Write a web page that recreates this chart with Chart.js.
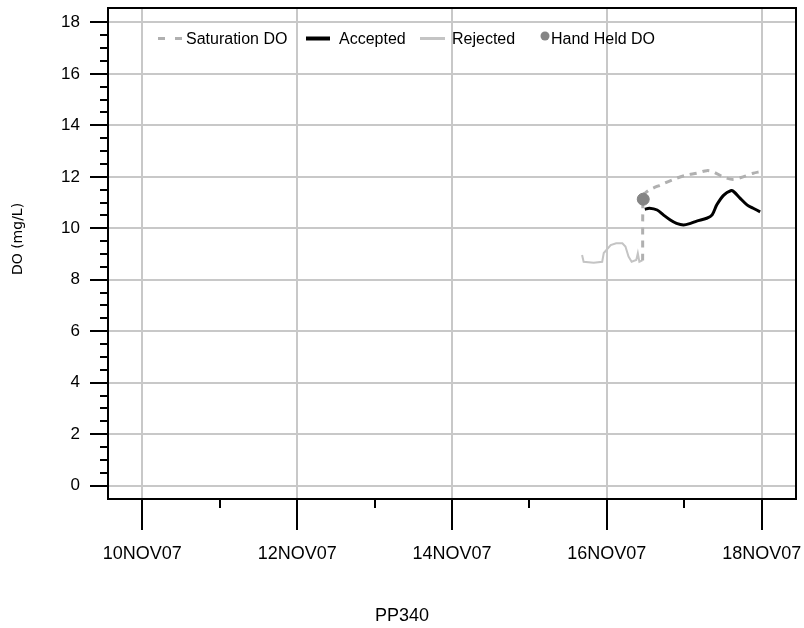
<!DOCTYPE html>
<html>
<head>
<meta charset="utf-8">
<script src="https://cdn.jsdelivr.net/npm/chart.js@4.4.1/dist/chart.umd.min.js"></script>
<style>
  html, body { margin: 0; padding: 0; background: #fff; }
  #wrap { width: 804px; height: 628px; }
</style>
</head>
<body>
<div id="wrap"><canvas id="c" width="804" height="628"></canvas></div>
<script>
// Station PP340, dissolved oxygen, November 2007 (x = day of month)
const xTickDays   = [10, 12, 14, 16, 18];
const xTickLabels = ['10NOV07', '12NOV07', '14NOV07', '16NOV07', '18NOV07'];
const yTickValues = [0, 2, 4, 6, 8, 10, 12, 14, 16, 18];

const satDays = [16.462, 16.468, 16.49, 16.55, 16.69, 16.86, 17.03, 17.16, 17.29, 17.37, 17.50, 17.63, 17.76, 17.89, 17.98];
const satDO   = [8.75, 11.30, 11.36, 11.49, 11.68, 11.90, 12.07, 12.14, 12.24, 12.20, 12.00, 11.90, 12.00, 12.14, 12.20];

const accDays = [16.49, 16.55, 16.65, 16.73, 16.82, 16.90, 16.99, 17.08, 17.16, 17.29, 17.36, 17.42, 17.51, 17.60, 17.64, 17.72, 17.81, 17.89, 17.98];
const accDO   = [10.74, 10.78, 10.71, 10.52, 10.32, 10.19, 10.13, 10.19, 10.28, 10.39, 10.52, 10.91, 11.29, 11.46, 11.42, 11.17, 10.91, 10.78, 10.64];

const rejDays = [15.68, 15.70, 15.83, 15.94, 15.96, 16.05, 16.12, 16.20, 16.24, 16.28, 16.32, 16.38, 16.40, 16.42, 16.46];
const rejDO   = [8.96, 8.70, 8.66, 8.70, 9.04, 9.35, 9.42, 9.42, 9.29, 8.90, 8.70, 8.77, 9.03, 8.70, 8.75];

const handDays = [16.47];
const handDO   = [11.13];

const pts = (xs, ys) => xs.map((x, i) => ({ x: x, y: ys[i] }));

const COL_SAT = '#b0b0b0';
const COL_ACC = '#000000';
const COL_REJ = '#c4c4c4';
const COL_HAND = '#858585';
const COL_GRID = '#c8c8c8';

// keep the plot box fixed: no extra room reserved for overhanging labels
const noOverhang = s => { s.paddingLeft = 0; s.paddingRight = 0; s.paddingTop = 0; s.paddingBottom = 0; };

// Legend, tick marks, frame and axis titles drawn on top of the chart area
const decorations = {
  id: 'decorations',
  afterDraw(chart) {
    const ctx = chart.ctx;
    const a = chart.chartArea;
    const xs = chart.scales.x, ys = chart.scales.y;
    ctx.save();

    // frame
    ctx.strokeStyle = '#000';
    ctx.lineWidth = 2;
    ctx.strokeRect(a.left, a.top, a.right - a.left, a.bottom - a.top);

    // x ticks: one per day, longer on labelled days
    ctx.beginPath();
    for (let d = 10; d <= 18; d++) {
      const px = Math.round(xs.getPixelForValue(d));
      const len = (d % 2 === 0) ? 31 : 9;
      ctx.moveTo(px, a.bottom);
      ctx.lineTo(px, a.bottom + len);
    }
    // y ticks: every 0.5, longer on labelled values
    for (let k = 0; k <= 36; k++) {
      const v = k / 2;
      const py = Math.round(ys.getPixelForValue(v));
      const len = (k % 4 === 0) ? 18 : 8;
      ctx.moveTo(a.left - len, py);
      ctx.lineTo(a.left, py);
    }
    ctx.stroke();

    // legend
    const ly = 38.5;
    ctx.lineCap = 'butt';
    ctx.strokeStyle = COL_SAT; ctx.lineWidth = 3;
    ctx.beginPath();
    ctx.moveTo(158, ly); ctx.lineTo(165, ly);
    ctx.moveTo(175, ly); ctx.lineTo(182, ly);
    ctx.stroke();
    ctx.strokeStyle = COL_ACC; ctx.lineWidth = 4;
    ctx.beginPath(); ctx.moveTo(306, ly); ctx.lineTo(330, ly); ctx.stroke();
    ctx.strokeStyle = COL_REJ; ctx.lineWidth = 3;
    ctx.beginPath(); ctx.moveTo(420, ly); ctx.lineTo(445, ly); ctx.stroke();
    ctx.fillStyle = COL_HAND;
    ctx.beginPath(); ctx.arc(545, 36, 4.5, 0, Math.PI * 2); ctx.fill();

    ctx.fillStyle = '#000';
    ctx.font = '16px "Liberation Sans", Arial, sans-serif';
    ctx.textAlign = 'left';
    ctx.textBaseline = 'middle';
    ctx.fillText('Saturation DO', 186, 40);
    ctx.fillText('Accepted', 339, 40);
    ctx.fillText('Rejected', 452, 40);
    ctx.fillText('Hand Held DO', 551, 40);

    // axis titles
    ctx.textAlign = 'center';
    ctx.font = '18px "Liberation Sans", Arial, sans-serif';
    ctx.fillText('PP340', 402, 616);
    ctx.translate(18, 239);
    ctx.rotate(-Math.PI / 2);
    ctx.font = '14px "DejaVu Sans", sans-serif';
    ctx.fillText('DO (mg/L)', 0, 0);
    ctx.restore();
  }
};

new Chart(document.getElementById('c'), {
  type: 'scatter',
  data: {
    datasets: [
      { label: 'Rejected', data: pts(rejDays, rejDO), showLine: true, borderColor: COL_REJ,
        borderWidth: 2, pointRadius: 0, tension: 0, order: 4 },
      { label: 'Saturation DO', data: pts(satDays, satDO), showLine: true, borderColor: COL_SAT,
        borderWidth: 3, borderDash: [7, 6], pointRadius: 0, tension: 0.3, order: 3 },
      { label: 'Accepted', data: pts(accDays, accDO), showLine: true, borderColor: COL_ACC,
        borderWidth: 3, pointRadius: 0, tension: 0.3, order: 2 },
      { label: 'Hand Held DO', data: pts(handDays, handDO), showLine: false, backgroundColor: COL_HAND,
        borderColor: COL_HAND, pointRadius: 6, pointStyle: 'circle', order: 1 }
    ]
  },
  options: {
    responsive: false,
    animation: false,
    devicePixelRatio: 1,
    layout: { padding: { left: 0, right: 8, top: 8, bottom: 0 } },
    plugins: { legend: { display: false }, tooltip: { enabled: false } },
    scales: {
      x: {
        type: 'linear',
        min: 9.557, max: 18.443,
        afterBuildTicks: s => { s.ticks = xTickDays.map(v => ({ value: v })); },
        afterFit: s => { s.height = 129; noOverhang(s); },
        grid: { color: COL_GRID, lineWidth: 2, drawTicks: false },
        border: { display: false },
        ticks: {
          autoSkip: false, maxRotation: 0, padding: 44, color: '#000',
          font: { family: '"Liberation Sans", Arial, sans-serif', size: 18 },
          callback: (v, i) => xTickLabels[i]
        }
      },
      y: {
        type: 'linear',
        min: -0.52, max: 18.56,
        afterBuildTicks: s => { s.ticks = yTickValues.map(v => ({ value: v })); },
        afterFit: s => { s.width = 108; noOverhang(s); },
        grid: { color: COL_GRID, lineWidth: 2, drawTicks: false },
        border: { display: false },
        ticks: {
          padding: 28, color: '#000',
          font: { family: '"Liberation Sans", Arial, sans-serif', size: 17 },
          callback: v => String(v)
        }
      }
    }
  },
  plugins: [decorations]
});
</script>
</body>
</html>
